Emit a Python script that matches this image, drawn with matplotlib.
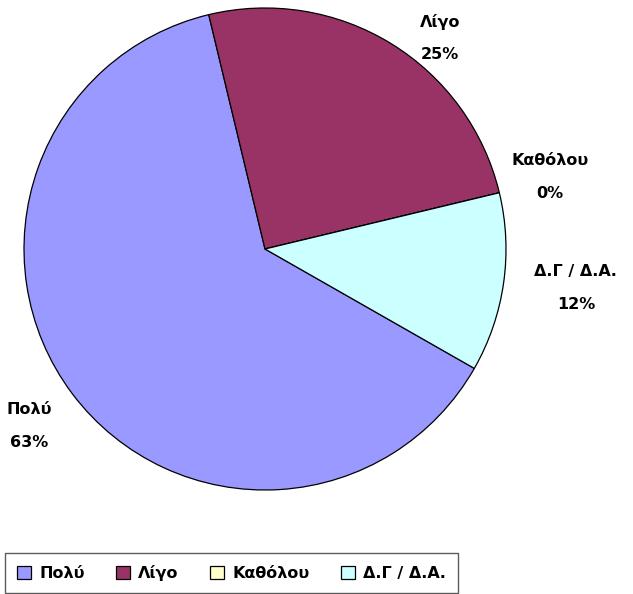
import matplotlib
matplotlib.use("Agg")
import matplotlib.pyplot as plt
from matplotlib.patches import Patch

categories = ["Πολύ", "Λίγο", "Καθόλου", "Δ.Γ / Δ.Α."]
values = [63, 25, 0, 12]
colors = ["#9999FF", "#993366", "#FFFFCC", "#CCFFFF"]
# label block centres relative to pie centre, in pie radii
label_offsets = [(-0.98, -0.735), (0.726, 0.876), (1.183, 0.299), (1.29, -0.162)]

W, H = 633, 594
fig = plt.figure(figsize=(W / 100, H / 100), dpi=100)
ax = fig.add_axes([0, 0, 1, 1])

cx, cy, R = 265, H - 249, 241
total = sum(values)
wedges, _ = ax.pie(values, colors=colors, startangle=-29.7, counterclock=False,
                   center=(cx, cy), radius=R, frame=True,
                   wedgeprops=dict(edgecolor="black", linewidth=0.9))
ax.set_xlim(0, W)
ax.set_ylim(0, H)
ax.axis("off")

for cat, v, (dx, dy) in zip(categories, values, label_offsets):
    ax.text(cx + dx * R, cy + dy * R, f"{cat}\n{round(100 * v / total)}%",
            ha="center", va="center", fontsize=11.5, fontweight="bold",
            linespacing=2.45, family="DejaVu Sans")

handles = [Patch(facecolor=c, edgecolor="black", linewidth=0.9) for c in colors]
leg = fig.legend(handles, categories, loc="upper left",
                 bbox_to_anchor=(5 / W, 1 - 553 / H),
                 ncol=4, frameon=True, fancybox=False,
                 prop=dict(weight="bold", size=11.5, family="DejaVu Sans"),
                 handlelength=0.9, handleheight=0.9, handletextpad=0.5,
                 columnspacing=1.95, borderaxespad=0, borderpad=0.75)
leg.get_frame().set_edgecolor("#333333")
leg.get_frame().set_linewidth(1.0)

fig.savefig("out.png", dpi=100)
